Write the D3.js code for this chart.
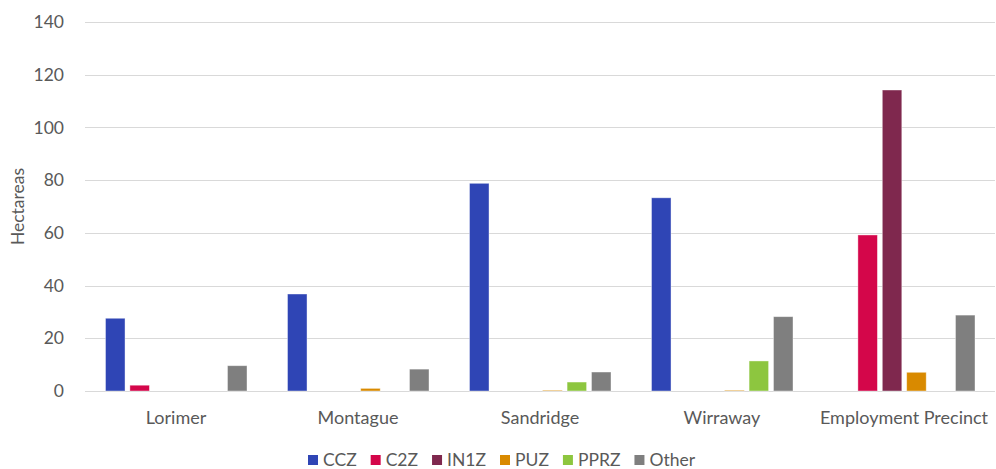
<!DOCTYPE html>
<html><head><meta charset="utf-8">
<script src="https://cdn.jsdelivr.net/npm/d3@7"></script>
<style>body{margin:0;background:#fff}svg{display:block}text{font-family:Lato,"Open Sans",sans-serif;fill:#595959}</style>
</head><body><svg id="c" width="996" height="469"></svg>
<script>
const categories = ["Lorimer","Montague","Sandridge","Wirraway","Employment Precinct"];
const seriesNames = ["CCZ","C2Z","IN1Z","PUZ","PPRZ","Other"];
const CCZ   = [27.6, 36.8, 78.8, 73.3, 0];
const C2Z   = [2.2, 0, 0, 0, 59.2];
const IN1Z  = [0, 0, 0, 0, 114.2];
const PUZ   = [0, 1.0, 0.3, 0.3, 7.1];
const PPRZ  = [0, 0, 3.4, 11.4, 0];
const Other = [9.6, 8.3, 7.2, 28.2, 28.8];
const yTicks = [0,20,40,60,80,100,120,140];
const colors = ["#2f45b5","#d4064a","#7f284e","#d98a00","#8dc63f","#7f7f7f"];

const series = [CCZ,C2Z,IN1Z,PUZ,PPRZ,Other];
const svg = d3.select("#c");
const L = 85, R = 995, T = 22, B = 391;
const x0 = d3.scaleBand().domain(categories).range([L,R]).paddingInner(0).paddingOuter(0);
const x1 = d3.scaleBand().domain(seriesNames).range([20.5, 162]).paddingInner(0.2).paddingOuter(0);
const y = d3.scaleLinear().domain([0,140]).range([B,T]);

svg.append("g").selectAll("line").data(yTicks).join("line")
  .attr("x1",L).attr("x2",R).attr("y1",d=>Math.round(y(d))+0.5).attr("y2",d=>Math.round(y(d))+0.5)
  .attr("stroke","#d9d9d9").attr("stroke-width",1);

svg.append("g").selectAll("text").data(yTicks).join("text")
  .attr("x",64).attr("y",d=>y(d)).attr("dy","0.35em").attr("text-anchor","end")
  .attr("font-size",17.5).text(d=>d);

svg.append("text").attr("transform",`translate(24,${(T+B)/2}) rotate(-90)`)
  .attr("text-anchor","middle").attr("font-size",17.5).text("Hectareas");

const g = svg.append("g");
categories.forEach((c,ci)=>{
  series.forEach((s,si)=>{
    const v = s[ci];
    if(v<=0) return;
    g.append("rect").attr("x",x0(c)+x1(seriesNames[si])).attr("width",x1.bandwidth())
      .attr("y",y(v)).attr("height",B-y(v)).attr("fill",colors[si])
      .attr("stroke","#ffffff").attr("stroke-opacity",0.5).attr("stroke-width",0.8);
  });
});

svg.append("g").selectAll("text").data(categories).join("text")
  .attr("x",d=>x0(d)+x0.bandwidth()/2).attr("y",418).attr("dy","0.35em").attr("text-anchor","middle")
  .attr("font-size",18).text(d=>d);

const lg = svg.append("g");
let lx = 308;
seriesNames.forEach((n,i)=>{
  lg.append("rect").attr("x",lx).attr("y",455).attr("width",10).attr("height",10).attr("fill",colors[i]);
  const t = lg.append("text").attr("x",lx+15).attr("y",460).attr("dy","0.35em").attr("font-size",17.5).text(n);
  lx += 15 + t.node().getComputedTextLength() + 14;
});
</script></body></html>
